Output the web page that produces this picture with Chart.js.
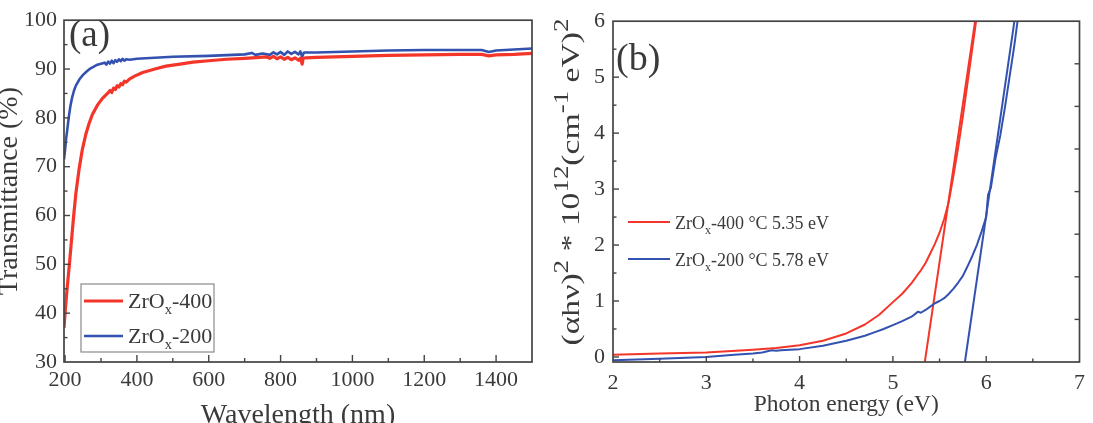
<!DOCTYPE html>
<html>
<head>
<meta charset="utf-8">
<script src="https://cdn.jsdelivr.net/npm/chart.js@4/dist/chart.umd.min.js"></script>
<style>
body{margin:0;background:#fff;width:1093px;height:423px;overflow:hidden;position:relative}
#chartA{position:absolute;left:0;top:0}
#chartB{position:absolute;left:545px;top:0}
</style>
</head>
<body>
<canvas id="chartA" width="545" height="423"></canvas>
<canvas id="chartB" width="548" height="423"></canvas>
<script>
// (a) transmittance spectra
var wlRed  = [197,200,205,212,218,224,230,239,248,258,267,276,290,304,318,325,330,335,340,345,350,355,360,365,370,380,395,416,450,481,520,556,600,649,700,742,760,770,780,790,800,810,820,830,840,850,855,860,863,870,900,1000,1100,1200,1300,1360,1380,1400,1450,1500];
var tRed   = [37.0,40.0,44.5,50.0,55.0,60.0,64.5,69.5,73.5,76.7,78.9,80.7,82.6,84.0,85.0,85.6,85.2,86.1,85.8,86.6,86.3,87.0,86.8,87.5,87.3,88.0,88.6,89.3,90.0,90.6,91.0,91.4,91.7,92.0,92.2,92.4,92.5,92.2,92.6,92.1,92.5,92.0,92.4,91.9,92.3,91.8,92.2,91.0,92.2,92.3,92.4,92.6,92.8,92.9,93.0,93.0,92.7,92.9,93.0,93.2];
var wlBlue = [197,200,203,206,210,215,220,225,230,240,250,260,270,280,290,300,310,315,320,325,330,335,340,345,350,355,360,365,370,380,400,450,500,600,700,720,730,750,770,780,790,800,810,820,830,840,850,855,860,865,900,1000,1100,1200,1300,1360,1380,1400,1450,1500];
var tBlue  = [71.5,73.5,75.8,77.5,80.0,82.5,84.3,85.6,86.6,87.9,88.8,89.5,90.1,90.5,90.9,91.1,91.3,90.9,91.5,91.1,91.7,91.2,91.8,91.5,92.0,91.6,92.1,91.7,92.0,91.9,92.1,92.3,92.5,92.7,93.0,93.3,92.9,93.2,92.9,93.4,93.0,93.5,92.9,93.6,93.1,93.5,93.0,93.6,92.5,93.4,93.4,93.6,93.8,93.9,93.9,93.9,93.5,93.8,94.0,94.2];
var xTicksA = [200,400,600,800,1000,1200,1400];
var xMinorA = [300,500,700,900,1100,1300];
var yTicksA = [30,40,50,60,70,80,90,100];
var yMinorA = [35,45,55,65,75,85,95];
var namesA  = ['ZrO_x-400','ZrO_x-200'];

// (b) Tauc plot
var eRed   = [2.0,2.5,3.0,3.5,3.75,4.0,4.25,4.5,4.7,4.85,5.0,5.1,5.2,5.3,5.35,5.4,5.45,5.5,5.55,5.6,5.65,5.7,5.75,5.8,5.85,5.9];
var aRed   = [0.04,0.06,0.08,0.13,0.16,0.21,0.29,0.42,0.58,0.75,0.98,1.13,1.32,1.55,1.68,1.85,2.02,2.22,2.47,2.78,3.25,3.75,4.3,4.9,5.5,6.1];
var eBlue  = [2.0,2.5,3.0,3.3,3.5,3.6,3.7,3.75,3.8,4.0,4.25,4.5,4.7,4.8,4.9,5.0,5.1,5.2,5.27,5.3,5.35,5.4,5.45,5.5,5.55,5.6,5.65,5.7,5.75,5.8,5.85,5.9,5.95,6.0,6.02,6.05,6.1,6.15,6.2,6.25,6.3,6.34];
var aBlue  = [-0.06,-0.03,0.0,0.04,0.06,0.08,0.12,0.11,0.12,0.14,0.2,0.29,0.38,0.44,0.5,0.57,0.64,0.72,0.81,0.79,0.84,0.9,0.96,1.0,1.05,1.13,1.22,1.33,1.45,1.62,1.8,2.0,2.24,2.5,2.9,3.02,3.55,3.95,4.45,5.0,5.55,6.05];
var fitRedE  = [5.341,5.890];
var fitRedA  = [-0.1,6.1];
var fitBlueE = [5.771,6.311];
var fitBlueA = [-0.1,6.1];
var xTicksB = [2,3,4,5,6,7];
var xMinorB = [2.5,3.5,4.5,5.5,6.5];
var yTicksB = [0,1,2,3,4,5,6];
var yMinorB = [0.5,1.5,2.5,3.5,4.5,5.5];
var rightTicksB = [1,2,3,4,5,6,7];
var namesB  = ['ZrO_x-400 °C 5.35 eV','ZrO_x-200 °C 5.78 eV'];
var yTitleB = '(αhν)^{2} * 10^{12}(cm^{-1} eV)^{2}';

var RED = '#f4362a', BLUE = '#3352b0', TXT = '#3a3a3a', AXIS = '#444444';
var SERIF = '"Liberation Serif", "Times New Roman", serif';

function pts(xs, ys){ return xs.map(function(x, i){ return {x: x, y: ys[i]}; }); }

// split "ZrO_x" / "10^{12}" into plain, sub and sup parts
function parts(str){
    var out = [];
    str.split(/(_.|\^\{[^}]*\})/).forEach(function(s){
        if (!s) return;
        if (s[0] === '_') out.push({t: s[1], m: 'sub'});
        else if (s[0] === '^') out.push({t: s.slice(2, -1), m: 'sup'});
        else out.push({t: s, m: ''});
    });
    return out;
}
function rich(ctx, str, x, y, size, small, draw){
    var w = 0;
    parts(str).forEach(function(p){
        var fs = p.m ? size * small : size;
        var dy = p.m === 'sub' ? size * 0.28 : (p.m === 'sup' ? -size * 0.38 : 0);
        ctx.font = fs + 'px ' + SERIF;
        if (draw) ctx.fillText(p.t, x + w, y + dy);
        w += ctx.measureText(p.t).width;
    });
    return w;
}

var decor = {
    id: 'decor',
    afterDatasetsDraw: function(chart, args, o){
        var ctx = chart.ctx, a = chart.chartArea;
        ctx.save();
        ctx.strokeStyle = AXIS;
        ctx.lineWidth = 1.7;
        ctx.strokeRect(a.left, a.top, a.right - a.left, a.bottom - a.top);
        ctx.lineWidth = 1.4;
        o.marks.forEach(function(m){
            var s = chart.scales[m.axis];
            m.values.forEach(function(v){
                var p = s.getPixelForValue(v);
                ctx.beginPath();
                if (m.side === 'bottom'){ ctx.moveTo(p, a.bottom); ctx.lineTo(p, a.bottom - m.len); }
                if (m.side === 'left'){ ctx.moveTo(a.left, p); ctx.lineTo(a.left + m.len, p); }
                if (m.side === 'right'){ ctx.moveTo(a.right, p); ctx.lineTo(a.right - m.len, p); }
                ctx.stroke();
            });
        });
        ctx.fillStyle = TXT;
        ctx.textBaseline = 'alphabetic';
        ctx.font = o.panel.size + 'px ' + SERIF;
        ctx.fillText(o.panel.text, o.panel.x, o.panel.y);
        var lg = o.legend;
        if (lg.box){
            ctx.fillStyle = '#fff';
            ctx.fillRect(lg.box[0], lg.box[1], lg.box[2], lg.box[3]);
            ctx.strokeStyle = '#8a8a8a';
            ctx.lineWidth = 1.2;
            ctx.strokeRect(lg.box[0], lg.box[1], lg.box[2], lg.box[3]);
        }
        lg.names.forEach(function(n, i){
            var ds = chart.data.datasets[i];
            var ly = lg.y + i * lg.gap;
            ctx.strokeStyle = ds.borderColor;
            ctx.lineWidth = ds.borderWidth;
            ctx.beginPath();
            ctx.moveTo(lg.x, ly);
            ctx.lineTo(lg.x + lg.len, ly);
            ctx.stroke();
            ctx.fillStyle = TXT;
            rich(ctx, n, lg.x + lg.len + 5, ly + lg.base, lg.size, 0.66, true);
        });
        if (o.ytitle){
            var t = o.ytitle;
            ctx.translate(t.x, t.y);
            ctx.rotate(-Math.PI / 2);
            var w = rich(ctx, t.text, 0, 0, t.size, 0.8, false);
            ctx.scale(t.len / w, 1);
            ctx.textBaseline = 'middle';
            ctx.fillStyle = TXT;
            rich(ctx, t.text, -w / 2, 0, t.size, 0.8, true);
        }
        ctx.restore();
    }
};

function numLabel(v){ return String(v); }
var noGrid = {display: false, drawTicks: false};

new Chart(document.getElementById('chartA'), {
    type: 'line',
    data: {
        datasets: [
            {label: 'ZrOx-400', data: pts(wlRed, tRed), borderColor: RED, borderWidth: 3.2},
            {label: 'ZrOx-200', data: pts(wlBlue, tBlue), borderColor: BLUE, borderWidth: 2.6}
        ]
    },
    options: {
        responsive: false, animation: false, events: [],
        layout: {padding: {top: 14, right: 13, left: 0, bottom: 0}},
        elements: {point: {radius: 0}, line: {tension: 0, borderJoinStyle: 'round'}},
        scales: {
            x: {
                type: 'linear', min: 197, max: 1500,
                grid: noGrid, border: {display: false},
                afterBuildTicks: function(s){ s.ticks = xTicksA.map(function(v){ return {value: v}; }); },
                afterFit: function(s){ s.height = 61; },
                ticks: {padding: 5, color: TXT, maxRotation: 0, autoSkip: false, callback: numLabel, font: {family: SERIF, size: 22}},
                title: {display: true, text: 'Wavelength (nm)', color: TXT, font: {family: SERIF, size: 28, lineHeight: 1}, padding: {top: 0, bottom: -7}}
            },
            y: {
                min: 30, max: 100,
                grid: noGrid, border: {display: false},
                afterBuildTicks: function(s){ s.ticks = yTicksA.map(function(v){ return {value: v}; }); },
                afterFit: function(s){ s.width = 64; },
                ticks: {padding: 7, color: TXT, autoSkip: false, callback: numLabel, font: {family: SERIF, size: 22}},
                title: {display: true, text: 'Transmittance (%)', color: TXT, font: {family: SERIF, size: 28, lineHeight: 1}, padding: {top: -4, bottom: 0}}
            }
        },
        plugins: {
            legend: {display: false}, tooltip: {enabled: false},
            decor: {
                marks: [
                    {axis: 'x', side: 'bottom', values: xTicksA, len: 7},
                    {axis: 'x', side: 'bottom', values: xMinorA, len: 4},
                    {axis: 'y', side: 'left', values: yTicksA.slice(1, -1), len: 6},
                    {axis: 'y', side: 'left', values: yMinorA, len: 3.5}
                ],
                panel: {text: '(a)', x: 69, y: 46, size: 37},
                legend: {box: [81, 284, 133, 68], names: namesA, x: 84, y: 301, gap: 35, len: 39, size: 22, base: 7}
            }
        }
    },
    plugins: [decor]
});

new Chart(document.getElementById('chartB'), {
    type: 'line',
    data: {
        datasets: [
            {label: 'ZrOx-400 °C 5.35 eV', data: pts(eRed, aRed), borderColor: RED, borderWidth: 2},
            {label: 'ZrOx-200 °C 5.78 eV', data: pts(eBlue, aBlue), borderColor: BLUE, borderWidth: 2},
            {label: 'fit 400', data: pts(fitRedE, fitRedA), borderColor: RED, borderWidth: 2},
            {label: 'fit 200', data: pts(fitBlueE, fitBlueA), borderColor: BLUE, borderWidth: 2}
        ]
    },
    options: {
        responsive: false, animation: false, events: [],
        layout: {padding: {top: 15, right: 11, left: 0, bottom: 0}},
        elements: {point: {radius: 0}, line: {tension: 0, borderJoinStyle: 'round'}},
        scales: {
            x: {
                type: 'linear', min: 2, max: 7,
                grid: noGrid, border: {display: false},
                afterBuildTicks: function(s){ s.ticks = xTicksB.map(function(v){ return {value: v}; }); },
                afterFit: function(s){ s.height = 61; },
                ticks: {padding: 8, color: TXT, maxRotation: 0, autoSkip: false, callback: numLabel, font: {family: SERIF, size: 22}},
                title: {display: true, text: 'Photon energy (eV)', color: TXT, font: {family: SERIF, size: 23.5, lineHeight: 1}, padding: {top: 0, bottom: 6}}
            },
            y: {
                min: -0.09, max: 6,
                grid: noGrid, border: {display: false},
                afterBuildTicks: function(s){ s.ticks = yTicksB.map(function(v){ return {value: v}; }); },
                afterFit: function(s){ s.width = 68; },
                ticks: {padding: 8, color: TXT, autoSkip: false, callback: numLabel, font: {family: SERIF, size: 22}}
            },
            y2: {
                position: 'right', min: 0, max: 8, display: false
            }
        },
        plugins: {
            legend: {display: false}, tooltip: {enabled: false},
            decor: {
                marks: [
                    {axis: 'x', side: 'bottom', values: xTicksB.slice(1, -1), len: 6},
                    {axis: 'x', side: 'bottom', values: xMinorB, len: 3.5},
                    {axis: 'y', side: 'left', values: yTicksB.slice(0, -1), len: 6},
                    {axis: 'y', side: 'left', values: yMinorB, len: 3.5},
                    {axis: 'y2', side: 'right', values: rightTicksB, len: 5}
                ],
                panel: {text: '(b)', x: 71, y: 70, size: 38},
                legend: {names: namesB, x: 83, y: 222, gap: 37, len: 42, size: 18, base: 7},
                ytitle: {text: yTitleB, x: 27, y: 182, size: 25, len: 327}
            }
        }
    },
    plugins: [decor]
});
</script>
</body>
</html>
